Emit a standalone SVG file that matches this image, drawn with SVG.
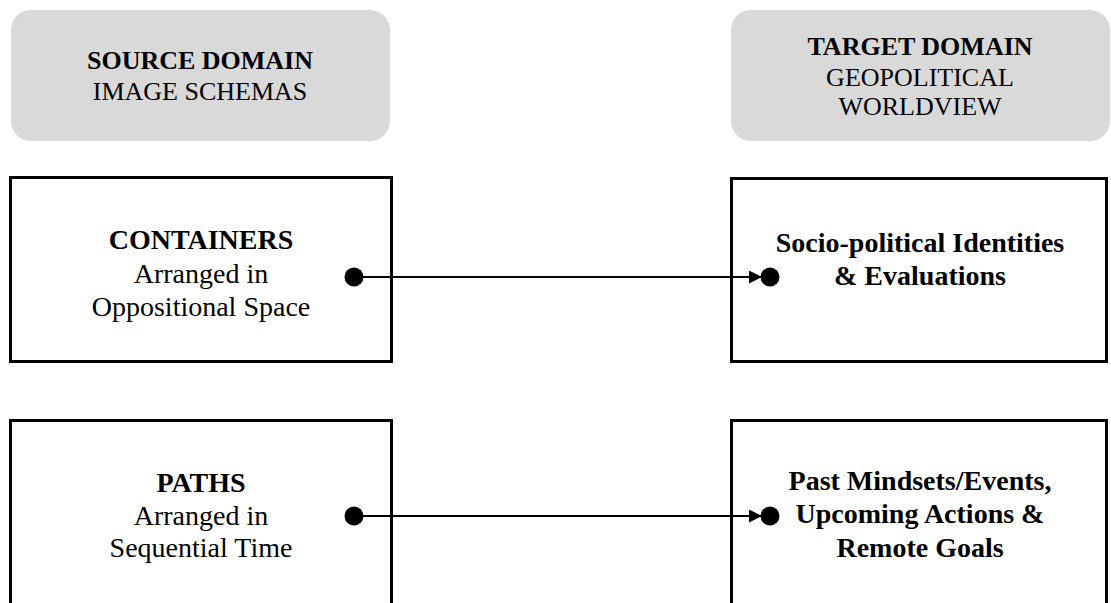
<svg xmlns="http://www.w3.org/2000/svg" width="1111" height="603" viewBox="0 0 1111 603">
  <style>
    .hdr { fill: #d9d9d9; stroke: none; }
    .box { fill: #ffffff; stroke: #000000; stroke-width: 3; }
    text { font-family: "Liberation Serif", "Times New Roman", serif; fill: #000000; text-anchor: middle; }
    .h { font-size: 26px; }
    .t { font-size: 28px; }
    .b { font-weight: bold; }
    .conn { stroke: #000000; stroke-width: 2; fill: none; }
  </style>
  <defs>
    <marker id="arrow" viewBox="0 0 10 10" refX="10" refY="5" markerWidth="15" markerHeight="13" markerUnits="userSpaceOnUse" orient="auto">
      <path d="M0,0 L10,5 L0,10 Z" fill="#000000"/>
    </marker>
  </defs>
  <rect width="1111" height="603" fill="#ffffff"/>

  <g id="source-domain">
    <rect class="hdr" x="11" y="10" width="379" height="131" rx="20" ry="20"/>
    <text class="h b" x="200" y="69">SOURCE DOMAIN</text>
    <text class="h" x="200" y="100">IMAGE SCHEMAS</text>
  </g>

  <g id="target-domain">
    <rect class="hdr" x="731" y="10" width="379" height="131" rx="20" ry="20"/>
    <text class="h b" x="920" y="55">TARGET DOMAIN</text>
    <text class="h" x="920" y="86">GEOPOLITICAL</text>
    <text class="h" x="920" y="115">WORLDVIEW</text>
  </g>

  <g id="containers">
    <rect class="box" x="10.5" y="177.5" width="381" height="184"/>
    <text class="t b" x="201" y="249">CONTAINERS</text>
    <text class="t" x="201" y="283">Arranged in</text>
    <text class="t" x="201" y="316">Oppositional Space</text>
  </g>

  <g id="identities">
    <rect class="box" x="731.5" y="178.5" width="375" height="183"/>
    <text class="t b" x="920" y="252">Socio-political Identities</text>
    <text class="t b" x="920" y="285">&amp; Evaluations</text>
  </g>

  <g id="paths">
    <rect class="box" x="10.5" y="420.5" width="381" height="200"/>
    <text class="t b" x="201" y="492">PATHS</text>
    <text class="t" x="201" y="525">Arranged in</text>
    <text class="t" x="201" y="557">Sequential Time</text>
  </g>

  <g id="mindsets">
    <rect class="box" x="731.5" y="420.5" width="375" height="200"/>
    <text class="t b" x="920" y="490">Past Mindsets/Events,</text>
    <text class="t b" x="920" y="523">Upcoming Actions &amp;</text>
    <text class="t b" x="920" y="557">Remote Goals</text>
  </g>

  <g id="connectors">
    <circle cx="354" cy="277" r="9.5" fill="#000000"/>
    <line class="conn" x1="354" y1="277" x2="762" y2="277" marker-end="url(#arrow)"/>
    <circle cx="770" cy="277" r="9.5" fill="#000000"/>

    <circle cx="354" cy="516" r="9.5" fill="#000000"/>
    <line class="conn" x1="354" y1="516" x2="762" y2="516" marker-end="url(#arrow)"/>
    <circle cx="770" cy="516" r="9.5" fill="#000000"/>
  </g>
</svg>
